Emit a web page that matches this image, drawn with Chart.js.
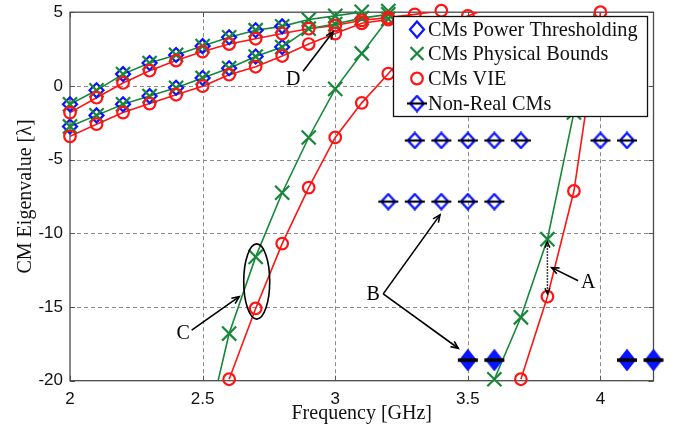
<!DOCTYPE html>
<html><head><meta charset="utf-8">
<script src="https://cdn.jsdelivr.net/npm/chart.js@4"></script>
<style>html,body{margin:0;padding:0;background:#fff}</style>
</head><body>
<canvas id="c" width="673" height="428"></canvas>
<script>
// ---------- data ----------
const xTicks = [2, 2.5, 3, 3.5, 4];
const yTicks = [-20, -15, -10, -5, 0, 5];

// CMs Power Thresholding (blue diamonds) — two bands
const powerX = [2.0, 2.1, 2.2, 2.3, 2.4, 2.5, 2.6, 2.7, 2.8];
const powerUpper = [-1.25, -0.3, 0.8, 1.55, 2.1, 2.7, 3.3, 3.78, 4.04];
const powerLower = [-2.75, -2.0, -1.25, -0.69, -0.13, 0.54, 1.2, 1.99, 2.64];

// CMs Physical Bounds (green)
const physUpperX = [2.0, 2.1, 2.2, 2.3, 2.4, 2.5, 2.6, 2.7, 2.8, 2.9, 3.0, 3.1, 3.2];
const physUpper = [-1.25, -0.3, 0.8, 1.55, 2.1, 2.7, 3.3, 3.78, 4.04, 4.5, 4.75, 5.02, 5.08];
const physLowerX = [2.0, 2.1, 2.2, 2.3, 2.4, 2.5, 2.6, 2.7, 2.8, 2.9, 3.0, 3.1, 3.2];
const physLower = [-2.75, -2.0, -1.25, -0.69, -0.13, 0.54, 1.2, 1.99, 2.64, 3.88, 4.2, 4.6, 4.85];
const physSteep1X = [2.5, 2.6, 2.7, 2.8, 2.9, 3.0, 3.1, 3.2, 3.3];
const physSteep1 = [-24.5, -16.8, -11.6, -7.25, -3.5, -0.2, 2.2, 4.55, 6.5];
const physSteep2X = [3.6, 3.7, 3.8, 3.9, 4.0];
const physSteep2 = [-19.9, -15.7, -10.4, -1.8, 7.0];

// CMs VIE (red)
const vieUpperX = [2.0, 2.1, 2.2, 2.3, 2.4, 2.5, 2.6, 2.7, 2.8, 2.9, 3.0, 3.1, 3.2, 3.3, 3.4];
const vieUpper = [-1.81, -0.8, 0.2, 1.03, 1.72, 2.33, 2.84, 3.2, 3.55, 3.88, 4.1, 4.45, 4.63, 4.85, 5.1];
const vieLowerX = [2.0, 2.1, 2.2, 2.3, 2.4, 2.5, 2.6, 2.7, 2.8, 2.9, 3.0, 3.1, 3.2];
const vieLower = [-3.42, -2.6, -1.81, -1.2, -0.6, -0.02, 0.76, 1.3, 2.03, 2.84, 3.55, 4.25, 4.5];
const vieSteep1X = [2.6, 2.7, 2.8, 2.9, 3.0, 3.1, 3.2, 3.3, 3.4, 3.5, 3.6];
const vieSteep1 = [-19.9, -15.1, -10.7, -6.9, -3.5, -1.15, 0.83, 2.9, 4.1, 4.75, 5.4];
const vieSteep2X = [3.7, 3.8, 3.9, 4.0];
const vieSteep2 = [-19.9, -14.3, -7.13, 5.0];

// Non-Real CMs
const nonRealAX = [3.3, 3.4, 3.5, 3.6, 3.7, 4.0, 4.1];
const nonRealA = [-3.7, -3.7, -3.7, -3.7, -3.7, -3.7, -3.7];
const nonRealBX = [3.2, 3.3, 3.4, 3.5, 3.6];
const nonRealB = [-7.85, -7.85, -7.85, -7.85, -7.85];
const nonRealCX = [3.5, 3.6, 4.1, 4.2];
const nonRealC = [-18.6, -18.6, -18.6, -18.6];

const legendLabels = ['CMs Power Thresholding', 'CMs Physical Bounds', 'CMs VIE', 'Non-Real CMs'];

// ---------- styling ----------
const GREEN = '#17873a', RED = '#ff1414', BLUE = '#0a14ff';
const SERIF = '"Liberation Serif", "Times New Roman", serif';
const SANS = '"Liberation Sans", Arial, sans-serif';

function makeNonReal(dense) {
  const cv = document.createElement('canvas');
  cv.width = 22; cv.height = dense ? 22 : 18;
  const g = cv.getContext('2d');
  const cx = 11, cy = cv.height / 2, hw = dense ? 7.5 : 7, hh = dense ? 9.5 : 7.5;
  g.beginPath();
  g.moveTo(cx, cy - hh); g.lineTo(cx + hw, cy); g.lineTo(cx, cy + hh); g.lineTo(cx - hw, cy); g.closePath();
  g.lineWidth = 2.3; g.strokeStyle = BLUE; g.stroke();
  if (dense) { g.fillStyle = BLUE; g.fill(); }
  g.strokeStyle = '#000'; g.lineWidth = dense ? 3.5 : 2.2;
  g.beginPath(); g.moveTo(1, cy); g.lineTo(21, cy); g.stroke();
  return cv;
}
const nrImg = makeNonReal(false);
const nrDense = makeNonReal(true);

const pts = (xs, ys) => xs.map((x, i) => ({x, y: ys[i]}));
const inRange = ctx => ctx.raw && ctx.raw.y >= -20.3 && ctx.raw.y <= 5.2;

function lineDS(xs, ys, color) {
  return {data: pts(xs, ys), showLine: true, borderColor: color, borderWidth: 1.6,
    pointRadius: 0, fill: false, tension: 0, clip: 0, order: 30};
}
function markDS(xs, ys, style, color, r, order, bw) {
  return {data: pts(xs, ys), showLine: false, pointStyle: style,
    pointRadius: c => inRange(c) ? r : 0, pointBorderColor: color,
    pointBackgroundColor: 'rgba(0,0,0,0)', pointBorderWidth: bw || 2.2, clip: false, order};
}
function imgDS(xs, ys, img, order) {
  return {data: pts(xs, ys), showLine: false, pointStyle: img, pointRadius: 8, clip: false, order};
}

const datasets = [
  lineDS(physUpperX, physUpper, GREEN), lineDS(physLowerX, physLower, GREEN),
  lineDS(physSteep1X, physSteep1, GREEN), lineDS(physSteep2X, physSteep2, GREEN),
  lineDS(vieUpperX, vieUpper, RED), lineDS(vieLowerX, vieLower, RED),
  lineDS(vieSteep1X, vieSteep1, RED), lineDS(vieSteep2X, vieSteep2, RED),
  markDS(powerX, powerUpper, 'rectRot', BLUE, 7, 12, 2.2),
  markDS(powerX, powerLower, 'rectRot', BLUE, 7, 12, 2.2),
  markDS(physUpperX, physUpper, 'crossRot', GREEN, 10, 8),
  markDS(physLowerX, physLower, 'crossRot', GREEN, 10, 8),
  markDS(physSteep1X, physSteep1, 'crossRot', GREEN, 10, 8),
  markDS(physSteep2X, physSteep2, 'crossRot', GREEN, 10, 8),
  markDS(vieUpperX, vieUpper, 'circle', RED, 5.8, 4),
  markDS(vieLowerX, vieLower, 'circle', RED, 5.8, 4),
  markDS(vieSteep1X, vieSteep1, 'circle', RED, 5.8, 4),
  markDS(vieSteep2X, vieSteep2, 'circle', RED, 5.8, 4),
  imgDS(nonRealAX, nonRealA, nrImg, 10),
  imgDS(nonRealBX, nonRealB, nrImg, 10),
  imgDS(nonRealCX, nonRealC, nrDense, 10)
];

// ---------- annotations (data coordinates) ----------
const notes = [
  {t: 'D', x: 2.842, y: 0.45, from: [2.879, 0.99], to: [[2.992, 3.67]]},
  {t: 'C', x: 2.427, y: -16.8, from: [2.459, -16.57], to: [[2.638, -14.3]]},
  {t: 'B', x: 3.143, y: -14.18, from: [3.181, -14.11], to: [[3.395, -8.75], [3.464, -17.8]]},
  {t: 'A', x: 3.954, y: -13.34, from: [3.916, -13.22], to: [[3.816, -12.33]]}
];
const ellipseC = {x: 2.704, y: -13.27, rx: 0.049, ry: 2.55};
const dottedA = {x: 3.8, y1: -10.6, y2: -14.1};

function arrowHead(ctx, x1, y1, x2, y2, len) {
  const a = Math.atan2(y2 - y1, x2 - x1);
  ctx.beginPath();
  ctx.moveTo(x2 - len * Math.cos(a - 0.42), y2 - len * Math.sin(a - 0.42));
  ctx.lineTo(x2, y2);
  ctx.lineTo(x2 - len * Math.cos(a + 0.42), y2 - len * Math.sin(a + 0.42));
  ctx.stroke();
}

const framePlugin = {
  id: 'frame',
  beforeDatasetsDraw(chart) {
    const {ctx, chartArea: a, scales: {x, y}} = chart;
    ctx.save();
    ctx.strokeStyle = '#8a8a8a'; ctx.lineWidth = 1; ctx.setLineDash([4, 3]);
    xTicks.forEach(v => { if (v > 2 && v < 4.2) { const px = Math.round(x.getPixelForValue(v)) + 0.5;
      ctx.beginPath(); ctx.moveTo(px, a.top); ctx.lineTo(px, a.bottom); ctx.stroke(); } });
    yTicks.forEach(v => { if (v > -20 && v < 5) { const py = Math.round(y.getPixelForValue(v)) + 0.5;
      ctx.beginPath(); ctx.moveTo(a.left, py); ctx.lineTo(a.right, py); ctx.stroke(); } });
    ctx.setLineDash([]);
    ctx.strokeStyle = '#555'; ctx.lineWidth = 1;
    xTicks.forEach(v => { const px = Math.round(x.getPixelForValue(v)) + 0.5;
      ctx.beginPath(); ctx.moveTo(px, a.bottom); ctx.lineTo(px, a.bottom - 5);
      ctx.moveTo(px, a.top); ctx.lineTo(px, a.top + 5); ctx.stroke(); });
    yTicks.forEach(v => { const py = Math.round(y.getPixelForValue(v)) + 0.5;
      ctx.beginPath(); ctx.moveTo(a.left, py); ctx.lineTo(a.left + 5, py);
      ctx.moveTo(a.right, py); ctx.lineTo(a.right - 5, py); ctx.stroke(); });
    ctx.strokeStyle = '#4a4a4a'; ctx.lineWidth = 1.3;
    ctx.strokeRect(a.left, a.top, a.right - a.left, a.bottom - a.top);
    ctx.restore();
  },
  afterDatasetsDraw(chart) {
    const {ctx, scales: {x, y}} = chart;
    ctx.save();
    ctx.strokeStyle = '#000'; ctx.fillStyle = '#000'; ctx.lineWidth = 1.6;
    ctx.font = '20px ' + SERIF; ctx.textAlign = 'center'; ctx.textBaseline = 'middle';
    notes.forEach(n => {
      ctx.fillText(n.t, x.getPixelForValue(n.x), y.getPixelForValue(n.y));
      const fx = x.getPixelForValue(n.from[0]), fy = y.getPixelForValue(n.from[1]);
      n.to.forEach(t => {
        const tx = x.getPixelForValue(t[0]), ty = y.getPixelForValue(t[1]);
        ctx.beginPath(); ctx.moveTo(fx, fy); ctx.lineTo(tx, ty); ctx.stroke();
        arrowHead(ctx, fx, fy, tx, ty, 8);
      });
    });
    const ex = x.getPixelForValue(ellipseC.x), ey = y.getPixelForValue(ellipseC.y);
    const erx = x.getPixelForValue(ellipseC.x + ellipseC.rx) - ex;
    const ery = ey - y.getPixelForValue(ellipseC.y + ellipseC.ry);
    ctx.beginPath(); ctx.ellipse(ex, ey, erx, ery, 0, 0, Math.PI * 2); ctx.stroke();
    const dx = x.getPixelForValue(dottedA.x), d1 = y.getPixelForValue(dottedA.y1), d2 = y.getPixelForValue(dottedA.y2);
    ctx.lineWidth = 1.5; ctx.setLineDash([1.5, 1.5]);
    ctx.beginPath(); ctx.moveTo(dx, d1); ctx.lineTo(dx, d2); ctx.stroke();
    ctx.setLineDash([]);
    arrowHead(ctx, dx, d2, dx, d1, 6); arrowHead(ctx, dx, d1, dx, d2, 6);
    ctx.restore();
  },
  afterDraw(chart) {
    const {ctx} = chart;
    const L = 393, T = 16, W = 254, H = 100;
    const rows = [29.5, 53.5, 78.5, 103.5];
    const mx = 417, tx = 428;
    ctx.save();
    ctx.fillStyle = '#fff'; ctx.fillRect(L, T, W, H);
    ctx.strokeStyle = '#111'; ctx.lineWidth = 1.3; ctx.strokeRect(L + 0.5, T + 0.5, W, H);
    ctx.lineWidth = 2.2;
    ctx.strokeStyle = BLUE; ctx.beginPath();
    ctx.moveTo(mx, rows[0] - 8); ctx.lineTo(mx + 7, rows[0]); ctx.lineTo(mx, rows[0] + 8); ctx.lineTo(mx - 7, rows[0]); ctx.closePath(); ctx.stroke();
    ctx.strokeStyle = GREEN; ctx.beginPath();
    ctx.moveTo(mx - 6.5, rows[1] - 6.5); ctx.lineTo(mx + 6.5, rows[1] + 6.5);
    ctx.moveTo(mx + 6.5, rows[1] - 6.5); ctx.lineTo(mx - 6.5, rows[1] + 6.5); ctx.stroke();
    ctx.strokeStyle = RED; ctx.beginPath(); ctx.arc(mx, rows[2], 5.8, 0, Math.PI * 2); ctx.stroke();
    ctx.drawImage(nrImg, mx - 11, rows[3] - 9);
    ctx.fillStyle = '#111'; ctx.font = '20.3px ' + SERIF; ctx.textAlign = 'left'; ctx.textBaseline = 'middle';
    legendLabels.forEach((s, i) => ctx.fillText(s, tx, rows[i] + 1));
    ctx.restore();
  }
};

new Chart(document.getElementById('c'), {
  type: 'scatter',
  data: {datasets},
  options: {
    responsive: false, animation: false, devicePixelRatio: 1,
    layout: {padding: {top: 9, right: 19.5, left: 0, bottom: 0}},
    plugins: {legend: {display: false}, tooltip: {enabled: false}},
    events: [],
    scales: {
      x: {type: 'linear', min: 2, max: 4.2,
        afterBuildTicks: s => { s.ticks = xTicks.map(v => ({value: v})); },
        afterFit: s => { s.height = 47.3; s.paddingLeft = 0; s.paddingRight = 0; s.paddingTop = 0; s.paddingBottom = 0; },
        grid: {display: false, drawTicks: false}, border: {display: false},
        ticks: {color: '#111', padding: 10, font: {family: SANS, size: 17, lineHeight: 1}, callback: v => String(v)},
        title: {display: true, text: 'Frequency [GHz]', color: '#111', font: {family: SERIF, size: 20, lineHeight: 1.2}, padding: {top: 0, bottom: 2.5}}
      },
      y: {type: 'linear', min: -20, max: 5,
        afterBuildTicks: s => { s.ticks = yTicks.map(v => ({value: v})); },
        afterFit: s => { s.width = 70; s.paddingTop = 0; s.paddingBottom = 0; s.paddingLeft = 0; s.paddingRight = 0; },
        grid: {display: false, drawTicks: false}, border: {display: false},
        ticks: {color: '#111', padding: 7, font: {family: SANS, size: 17, lineHeight: 1}, callback: v => String(v)},
        title: {display: true, text: 'CM Eigenvalue [λ]', color: '#111', font: {family: SERIF, size: 20, lineHeight: 1.2}, padding: {top: 14, bottom: 0}}
      }
    }
  },
  plugins: [framePlugin]
});
</script>
</body></html>
